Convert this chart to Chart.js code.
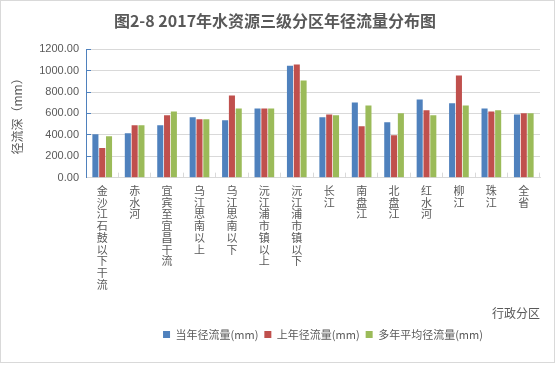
<!DOCTYPE html>
<html>
<head>
<meta charset="utf-8">
<script src="https://cdn.jsdelivr.net/npm/chart.js@4.4.1/dist/chart.umd.min.js"></script>
<style>
  html, body { margin: 0; padding: 0; background: #fff; }
  #wrap { position: relative; width: 557px; height: 365px; }
  #frame { position: absolute; left: 0; top: 0; width: 553px; height: 361px; border: 1px solid #D9D9D9; pointer-events: none; }
  canvas { position: absolute; left: 0; top: 0; }
</style>
</head>
<body>
<div id="wrap">
  <canvas id="c" width="557" height="365"></canvas>
  <div id="frame"></div>
</div>
<script>
const categories = ['金沙江石鼓以下干流', '赤水河', '宜宾至宜昌干流', '乌江思南以上', '乌江思南以下', '沅江浦市镇以上', '沅江浦市镇以下', '长江', '南盘江', '北盘江', '红水河', '柳江', '珠江', '全省'];
const seriesNames = ['当年径流量(mm)', '上年径流量(mm)', '多年平均径流量(mm)'];
const currentYear = [406, 415, 489, 564, 536, 647, 1046, 564, 703, 517, 731, 694, 647, 591];
const lastYear = [276, 489, 582, 545, 768, 647, 1056, 591, 480, 396, 629, 954, 619, 601];
const average = [387, 489, 619, 545, 647, 647, 907, 582, 675, 601, 582, 675, 629, 601];
const yTicks = [0, 200, 400, 600, 800, 1000, 1200];

const textColor = '#595959';
const fontFam = '"Noto Sans CJK SC", "Noto Sans", sans-serif';

const legendShift = {
  id: 'legendShift',
  afterLayout(chart) {
    const lg = chart.legend;
    const dx = 48;
    lg.left += dx; lg.right += dx;
  }
};

new Chart(document.getElementById('c'), {
  type: 'bar',
  data: {
    labels: categories.map(s => s.split('')),
    datasets: [
      { label: seriesNames[0], data: currentYear, backgroundColor: '#4F81BD' },
      { label: seriesNames[1], data: lastYear, backgroundColor: '#C0504D' },
      { label: seriesNames[2], data: average, backgroundColor: '#9BBB59' }
    ]
  },
  options: {
    responsive: false,
    animation: false,
    devicePixelRatio: 1,
    datasets: { bar: { categoryPercentage: 0.63, barPercentage: 0.89 } },
    layout: { padding: { left: 10, right: 17, top: 8, bottom: 15 } },
    plugins: {
      title: {
        display: true,
        text: '图2-8 2017年水资源三级分区年径流量分布图',
        color: textColor,
        font: { family: fontFam, size: 16, weight: 'bold' },
        padding: { top: 3, bottom: 19 }
      },
      legend: {
        position: 'bottom',
        labels: {
          color: textColor,
          font: { family: fontFam, size: 11 },
          boxWidth: 7, boxHeight: 7, padding: 6
        }
      },
      tooltip: { enabled: false }
    },
    scales: {
      x: {
        grid: { display: true, drawOnChartArea: false, offset: true, color: '#D9D9D9', tickLength: -5 },
        border: { color: '#D9D9D9' },
        ticks: {
          color: textColor, autoSkip: false, maxRotation: 0, minRotation: 0,
          font: { family: fontFam, size: 11, lineHeight: 1.07 }, padding: 12
        },
        title: {
          display: true, text: '行政分区', align: 'end', color: textColor,
          font: { family: fontFam, size: 12 }, padding: { top: 4, bottom: 2 }
        }
      },
      y: {
        min: 0, max: 1200,
        afterBuildTicks(scale) { scale.ticks = yTicks.map(v => ({ value: v })); },
        afterFit(scale) { scale.width = 76; },
        grid: { color: '#D9D9D9', tickColor: '#4F81BD', tickLength: -5 },
        border: { color: '#4F81BD' },
        ticks: {
          color: textColor, padding: 12,
          font: { family: '"Liberation Sans", sans-serif', size: 11 },
          callback: v => Number(v).toFixed(2)
        },
        title: {
          display: true, text: '径流深（mm）', color: textColor,
          font: { family: fontFam, size: 12 }, padding: { top: 0, bottom: 0 }
        }
      }
    }
  },
  plugins: [legendShift]
});
</script>
</body>
</html>
